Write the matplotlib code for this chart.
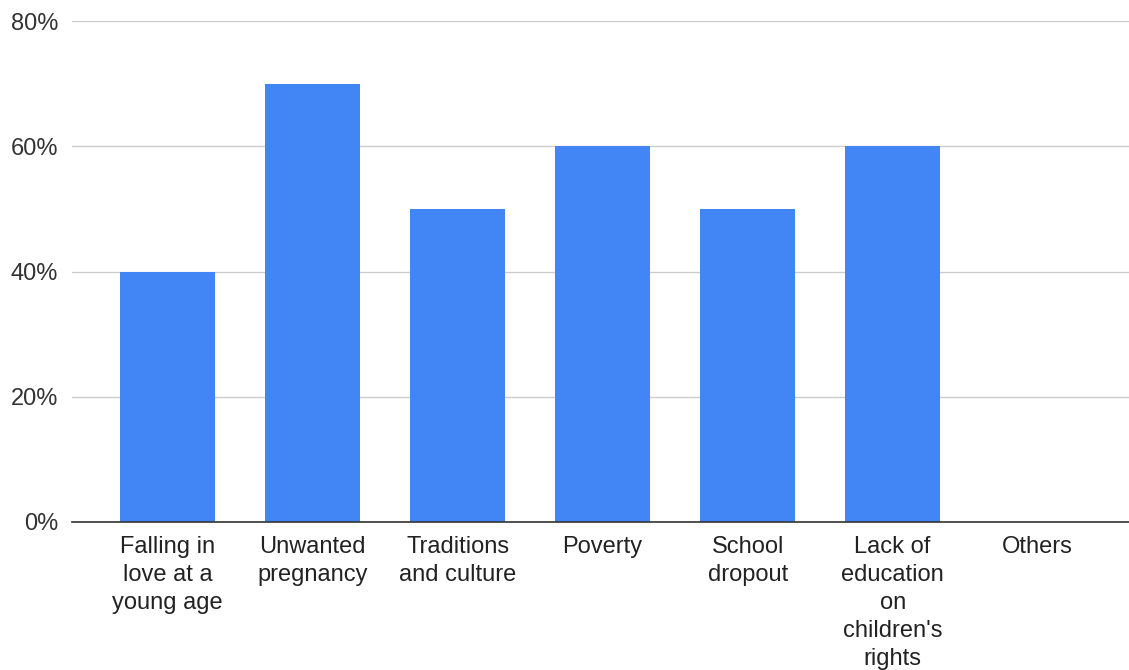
import matplotlib.pyplot as plt
from matplotlib.ticker import PercentFormatter

plt.rcParams['font.family'] = ['Liberation Sans', 'DejaVu Sans']

categories = ["Falling in\nlove at a\nyoung age", "Unwanted\npregnancy",
              "Traditions\nand culture", "Poverty", "School\ndropout",
              "Lack of\neducation\non\nchildren's\nrights", "Others"]
values = [0.40, 0.70, 0.50, 0.60, 0.50, 0.60, 0.0]
yticks = [0, 0.2, 0.4, 0.6, 0.8]

fig = plt.figure(figsize=(11.29, 6.7), dpi=100)
ax = fig.add_axes([72/1129, 148/670, 1 - 72/1129, (522-21)/670])

x = range(len(categories))
ax.bar(x, values, width=0.655, color='#4285F4', zorder=3)

ax.set_ylim(0, 0.8)
ax.set_xlim(-0.66, 6.63)
ax.set_yticks(yticks)
ax.yaxis.set_major_formatter(PercentFormatter(1.0, decimals=0))
ax.set_xticks(list(x))
ax.set_xticklabels(categories, fontsize=17, color='#222222', linespacing=1.36)
ax.tick_params(axis='y', labelsize=17, labelcolor='#333333', length=0, pad=10)
ax.tick_params(axis='x', length=0, pad=10)
ax.grid(axis='y', color='#cccccc', linewidth=1, zorder=0)

for s in ['top', 'right', 'left']:
    ax.spines[s].set_visible(False)
ax.spines['bottom'].set_color('#333333')
ax.spines['bottom'].set_linewidth(1.2)
ax.spines['bottom'].set_zorder(4)

fig.savefig('out.png', dpi=100)
